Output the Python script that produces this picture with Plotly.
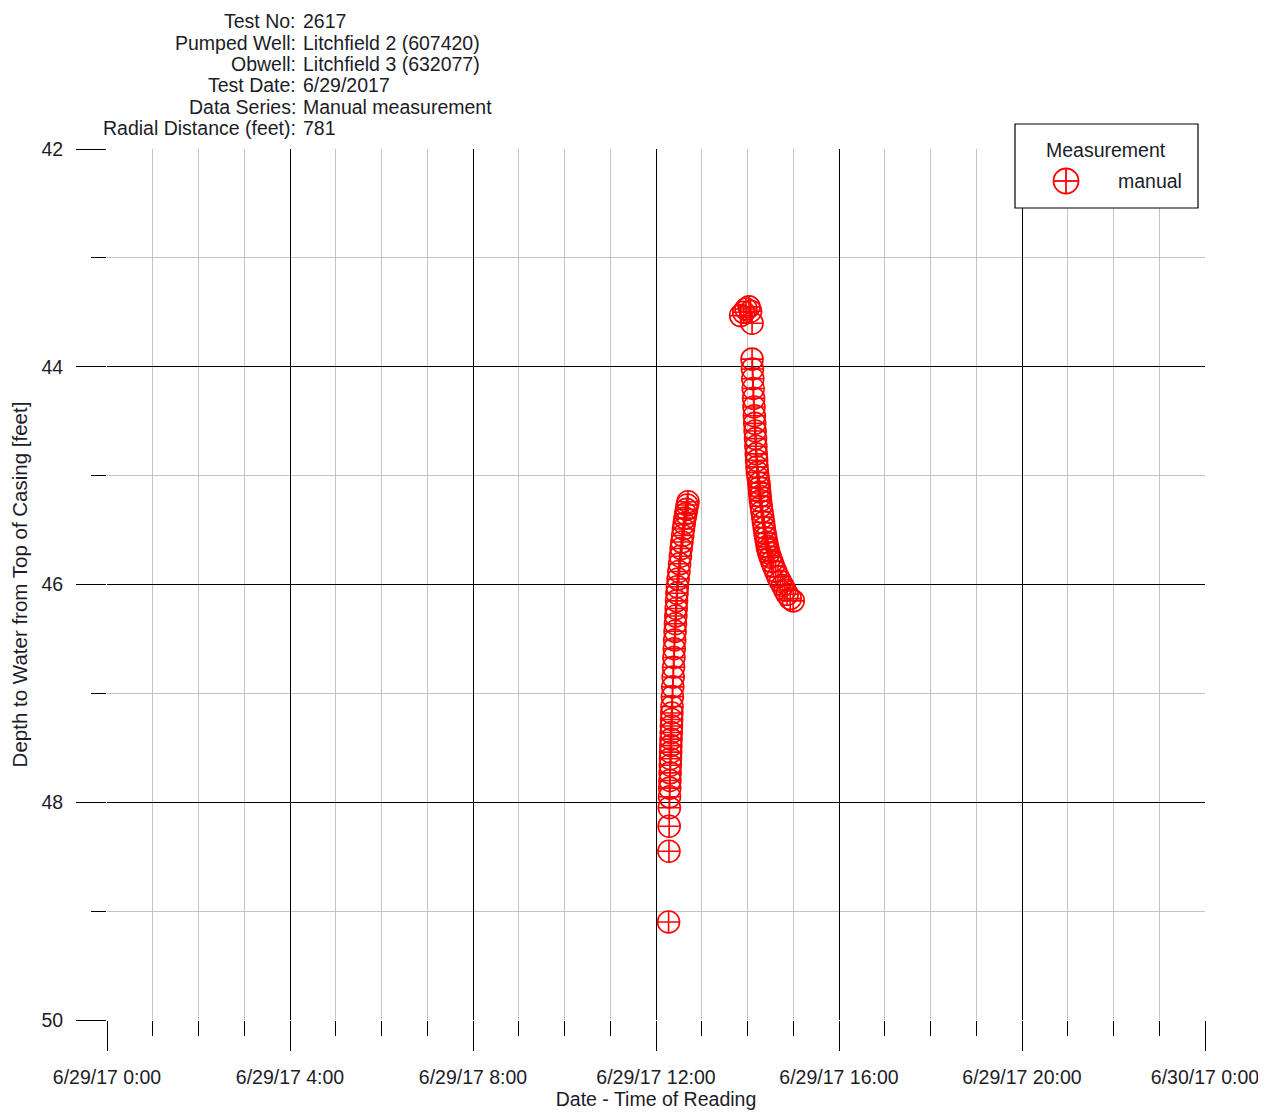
import plotly.graph_objects as go

# ---- data ----
# recovery segment 1 (times on 6/29/2017)
times_1 = [
    "12:16:30", "12:17:00", "12:17:15", "12:17:30", "12:17:45", "12:18:00", "12:18:15", "12:18:30",
    "12:18:45", "12:19:00", "12:19:15", "12:19:30", "12:19:45", "12:20:00", "12:20:15", "12:20:30",
    "12:20:45", "12:21:00", "12:21:30", "12:22:00", "12:22:30", "12:23:00", "12:23:30", "12:24:00",
    "12:24:30", "12:25:00", "12:25:30", "12:26:00", "12:26:30", "12:27:00", "12:27:30", "12:28:00",
    "12:29:00", "12:30:00", "12:31:00", "12:32:00", "12:33:00", "12:34:00", "12:35:00", "12:36:00",
    "12:37:00", "12:38:00", "12:39:00", "12:40:00", "12:41:00", "12:42:00",
]
depth_1 = [
    49.10, 48.45, 48.22, 48.05, 47.95, 47.87, 47.80, 47.73,
    47.66, 47.60, 47.54, 47.48, 47.42, 47.36, 47.30, 47.24,
    47.18, 47.12, 47.03, 46.94, 46.85, 46.76, 46.67, 46.59,
    46.51, 46.43, 46.36, 46.29, 46.22, 46.15, 46.08, 46.02,
    45.95, 45.88, 45.81, 45.74, 45.67, 45.61, 45.55, 45.49,
    45.44, 45.39, 45.35, 45.31, 45.27, 45.24,
]
# segment 2
times_2 = [
    "13:51:00", "13:55:00", "13:58:00", "14:02:00", "14:04:00", "14:06:00",
    "14:06:00", "14:06:30", "14:07:00", "14:07:30", "14:08:00", "14:08:30", "14:09:00", "14:09:30",
    "14:10:00", "14:10:30", "14:11:00", "14:11:30", "14:12:00", "14:12:30", "14:13:00", "14:14:00",
    "14:15:00", "14:15:30", "14:16:00", "14:16:30", "14:17:00", "14:18:00", "14:19:00", "14:20:00",
    "14:21:00", "14:22:00", "14:23:00", "14:24:00", "14:25:00", "14:26:00", "14:27:00", "14:28:00",
    "14:30:00", "14:32:00", "14:34:00", "14:37:00", "14:40:00", "14:43:00", "14:46:00", "14:49:00",
    "14:52:00", "14:56:00", "15:00:00",
]
depth_2 = [
    43.53, 43.50, 43.47, 43.45, 43.49, 43.60,
    43.93, 44.02, 44.11, 44.20, 44.29, 44.37, 44.45, 44.52,
    44.59, 44.66, 44.73, 44.80, 44.86, 44.92, 44.97, 45.02,
    45.07, 45.11, 45.15, 45.19, 45.23, 45.28, 45.33, 45.38,
    45.43, 45.48, 45.53, 45.57, 45.61, 45.65, 45.68, 45.71,
    45.75, 45.79, 45.83, 45.88, 45.93, 45.97, 46.01, 46.05,
    46.09, 46.13, 46.15,
]
test_date = "2017-06-29"

x_tick_vals = ["2017-06-29 00:00", "2017-06-29 04:00", "2017-06-29 08:00", "2017-06-29 12:00",
               "2017-06-29 16:00", "2017-06-29 20:00", "2017-06-30 00:00"]
x_tick_text = ["6/29/17 0:00", "6/29/17 4:00", "6/29/17 8:00", "6/29/17 12:00",
               "6/29/17 16:00", "6/29/17 20:00", "6/30/17 0:00"]
y_tick_vals = [42, 44, 46, 48, 50]

header_labels = ["Test No:", "Pumped Well:", "Obwell:", "Test Date:", "Data Series:", "Radial Distance (feet):"]
header_values = ["2617", "Litchfield 2 (607420)", "Litchfield 3 (632077)", "6/29/2017",
                 "Manual measurement", "781"]
legend_title = "Measurement"
series_name = "manual"

# ---- figure ----
xs = [f"{test_date} {t}" for t in times_1 + times_2]
ys = depth_1 + depth_2

FONT = "Liberation Sans, Arial, sans-serif"
TXT = "#1c1c28"
RED = "#ff0000"
FS = 19.5

# page body has an 8px margin: compensate so the plot area lands at screen x 107..1205, y 149..1020
OFF = 8
W, H = 1266 - OFF, 1114 - OFF
PX0, PX1, PY0, PY1 = 107, 1205, 149, 1020
L, T = PX0 - OFF, PY0 - OFF
R, B = W - (PX1 - OFF), H - (PY1 - OFF)
pw, ph = PX1 - PX0, PY1 - PY0


def px(x):
    return (x - PX0) / pw


def py(y):
    return (PY1 - y) / ph


fig = go.Figure()
fig.add_trace(go.Scatter(
    x=xs, y=ys, mode="markers", name=series_name, showlegend=False,
    marker=dict(symbol="circle-cross-open", size=22, color=RED, line=dict(width=1.6)),
))

fig.update_layout(
    width=W, height=H,
    margin=dict(l=L, r=R, t=T, b=B, pad=0, autoexpand=False),
    paper_bgcolor="white", plot_bgcolor="white",
    font=dict(family=FONT, size=FS, color=TXT),
    showlegend=False,
    xaxis=dict(
        type="date", range=["2017-06-29 00:00", "2017-06-30 00:00"],
        tickvals=x_tick_vals, ticktext=x_tick_text,
        ticks="outside", ticklen=30, tickwidth=1.3, tickcolor="black",
        showgrid=True, gridcolor="black", gridwidth=1.3,
        minor=dict(dtick=3600000, ticks="outside", ticklen=15, tickcolor="black", tickwidth=1.3,
                   showgrid=True, gridcolor="#c4c4c4", gridwidth=1.3),
        showline=False, zeroline=False, automargin=False,
        tickfont=dict(size=FS, color=TXT), ticklabelstandoff=10,
        title=dict(text="Date - Time of Reading", font=dict(size=FS, color=TXT), standoff=2),
    ),
    yaxis=dict(
        range=[50, 42], tickvals=y_tick_vals,
        ticks="outside", ticklen=30, tickwidth=1.3, tickcolor="black",
        showgrid=True, gridcolor="black", gridwidth=1.3,
        minor=dict(dtick=1, ticks="outside", ticklen=15, tickcolor="black", tickwidth=1.3,
                   showgrid=True, gridcolor="#c4c4c4", gridwidth=1.3),
        showline=False, zeroline=False, automargin=False,
        tickfont=dict(size=FS, color=TXT), ticklabelstandoff=9,
        title=dict(text="Depth to Water from Top of Casing [feet]", font=dict(size=20.5, color=TXT), standoff=9),
    ),
)

# header block
line_y = [21, 42.5, 64, 85.5, 107, 128.5]
for lab, val, yy in zip(header_labels, header_values, line_y):
    fig.add_annotation(text=lab, x=px(297), y=py(yy), xref="paper", yref="paper",
                       xanchor="right", yanchor="middle", showarrow=False, borderpad=0,
                       font=dict(size=FS, color=TXT, family=FONT))
    fig.add_annotation(text=val, x=px(302), y=py(yy), xref="paper", yref="paper",
                       xanchor="left", yanchor="middle", showarrow=False, borderpad=0,
                       font=dict(size=FS, color=TXT, family=FONT))

# legend box (drawn to match the reference's boxed key)
fig.add_shape(type="rect", xref="paper", yref="paper",
              x0=px(1015), x1=px(1198), y0=py(208), y1=py(124),
              fillcolor="white", line=dict(color="black", width=1.2), layer="above")
fig.add_annotation(text=legend_title, x=px(1106), y=py(150), xref="paper", yref="paper",
                   xanchor="center", yanchor="middle", showarrow=False,
                   font=dict(size=FS, color=TXT, family=FONT))
fig.add_annotation(text=series_name, x=px(1150), y=py(181), xref="paper", yref="paper",
                   xanchor="center", yanchor="middle", showarrow=False,
                   font=dict(size=FS, color=TXT, family=FONT))
cx, cy, r = 1066, 181, 12.5
fig.add_shape(type="circle", xref="paper", yref="paper",
              x0=px(cx - r), x1=px(cx + r), y0=py(cy + r), y1=py(cy - r),
              line=dict(color=RED, width=1.8), layer="above")
fig.add_shape(type="line", xref="paper", yref="paper",
              x0=px(cx - r), x1=px(cx + r), y0=py(cy), y1=py(cy),
              line=dict(color=RED, width=1.8), layer="above")
fig.add_shape(type="line", xref="paper", yref="paper",
              x0=px(cx), x1=px(cx), y0=py(cy + r), y1=py(cy - r),
              line=dict(color=RED, width=1.8), layer="above")

fig.write_html("out.html")
